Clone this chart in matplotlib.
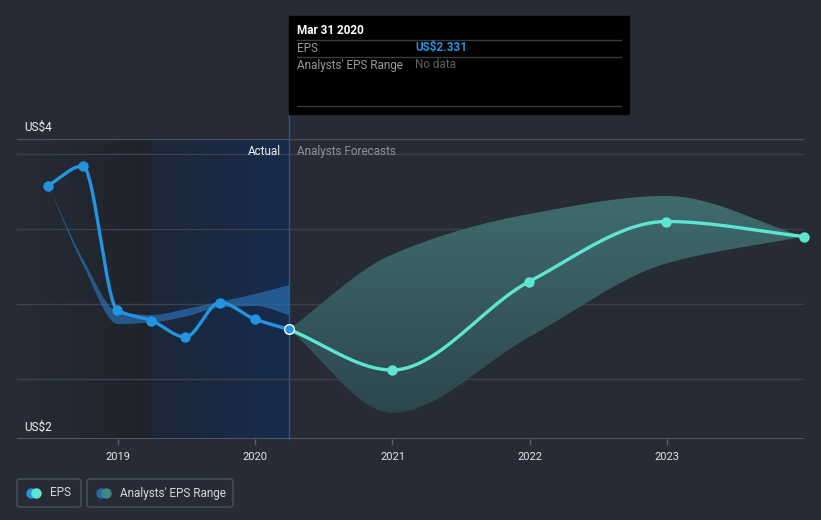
import numpy as np
import matplotlib
matplotlib.use("Agg")
import matplotlib.pyplot as plt
import matplotlib.dates as mdates
from matplotlib.lines import Line2D
from matplotlib.patches import Rectangle, FancyBboxPatch
from matplotlib.colors import LinearSegmentedColormap
from datetime import datetime

# ---------------- data ----------------
actual_dates = ["2018-06-30", "2018-09-30", "2018-12-31", "2019-03-31",
                "2019-06-30", "2019-09-30", "2019-12-31", "2020-03-31"]
actual_eps = [3.29, 3.42, 2.46, 2.39, 2.28, 2.51, 2.40, 2.331]
past_range_low = [3.29, 2.76, 2.37, 2.38, 2.42, 2.48, 2.49, 2.43]
past_range_high = [3.29, 2.80, 2.45, 2.43, 2.47, 2.52, 2.57, 2.63]

forecast_dates = ["2020-03-31", "2020-12-31", "2021-12-31", "2022-12-31", "2023-12-31"]
forecast_eps = [2.331, 2.06, 2.65, 3.05, 2.95]
forecast_low = [2.331, 1.775, 2.28, 2.77, 2.95]
forecast_high = [2.331, 2.83, 3.10, 3.22, 2.95]

year_ticks = ["2019", "2020", "2021", "2022", "2023"]
y_labels = ["US$4", "US$2"]

# ---------------- style ----------------
BG = "#262b36"
BLUE = "#2394df"
TEAL = "#5ee6d0"
FONT = ["Roboto", "DejaVu Sans"]
plt.rcParams["font.family"] = FONT

W, H = 821, 520
fig = plt.figure(figsize=(W / 100, H / 100), dpi=100, facecolor=BG)

def fx(px):
    return px / W

def fy(py):
    return 1 - py / H

ax_l, ax_r, ax_t, ax_b = 17, 804, 139, 439
ax = fig.add_axes([fx(ax_l), fy(ax_b), (ax_r - ax_l) / W, (ax_b - ax_t) / H])
ax.set_facecolor(BG)
for s in ax.spines.values():
    s.set_visible(False)


def to_num(ds):
    return np.array([mdates.date2num(datetime.strptime(d, "%Y-%m-%d")) for d in ds])


def monotone(x, y, n=300):
    x = np.asarray(x, float)
    y = np.asarray(y, float)
    h = np.diff(x)
    d = np.diff(y) / h
    m = np.zeros_like(y)
    m[0] = d[0]
    m[-1] = d[-1]
    for i in range(1, len(x) - 1):
        if d[i - 1] * d[i] <= 0:
            m[i] = 0
        else:
            w1 = 2 * h[i] + h[i - 1]
            w2 = h[i] + 2 * h[i - 1]
            m[i] = (w1 + w2) / (w1 / d[i - 1] + w2 / d[i])
    xs, ys = [], []
    for i in range(len(x) - 1):
        t = np.linspace(0, 1, n // (len(x) - 1) + 2)
        hh = h[i]
        h00 = 2 * t**3 - 3 * t**2 + 1
        h10 = t**3 - 2 * t**2 + t
        h01 = -2 * t**3 + 3 * t**2
        h11 = t**3 - t**2
        yy = h00 * y[i] + h10 * hh * m[i] + h01 * y[i + 1] + h11 * hh * m[i + 1]
        xs.append(x[i] + t * hh)
        ys.append(yy)
    return np.concatenate(xs), np.concatenate(ys)


xa = to_num(actual_dates)
xf = to_num(forecast_dates)
x_left = mdates.date2num(datetime(2018, 4, 8))
x_right = mdates.date2num(datetime(2024, 1, 1))
x_past1 = mdates.date2num(datetime(2019, 3, 31))
x_now = xa[-1]
y0, y1 = 1.6, 3.6
ax.set_xlim(x_left, x_right)
ax.set_ylim(y0, y1)

# background shading regions
grad = np.linspace(0, 1, 256).reshape(1, -1)
cm_dark = LinearSegmentedColormap.from_list("d", ["#262b36", "#1f232b"])
ax.imshow(grad, cmap=cm_dark, aspect="auto", extent=(x_left, x_past1, y0, y1),
          zorder=0, interpolation="bicubic")
cm_blue = LinearSegmentedColormap.from_list("b", ["#1d2739", "#162b4c"])
ax.imshow(grad, cmap=cm_blue, aspect="auto", extent=(x_past1, x_now, y0, y1),
          zorder=0, interpolation="bicubic")

# grid lines
for gv in [2.0, 2.5, 3.0, 3.5]:
    ax.axhline(gv, color="#3c424d", lw=1, zorder=1)
ax.axhline(y1, color="#4a505a", lw=1, zorder=1)
ax.axhline(y0, color="#5a5f69", lw=1.2, zorder=1)

# vertical "now" line
ax.plot([x_now, x_now], [y0, y1 + 0.167], color="#2c5590", lw=1, zorder=2, clip_on=False)

# past analyst range band
sx, slo = monotone(xa, past_range_low)
_, shi = monotone(xa, past_range_high)
ax.fill_between(sx, slo, shi, color="#2a6eb0", alpha=0.7, lw=0, zorder=3)

# forecast analyst range band (vertical gradient)
fxs, flo = monotone(xf, forecast_low)
_, fhi = monotone(xf, forecast_high)
band = ax.fill_between(fxs, flo, fhi, color="none", lw=0, zorder=3)
cm_teal = LinearSegmentedColormap.from_list("t", ["#2c464d", "#406c6e"])
vgrad = np.linspace(0, 1, 256).reshape(-1, 1)
im = ax.imshow(vgrad, cmap=cm_teal, aspect="auto", origin="lower",
               extent=(x_now, x_right, 1.75, 3.25), zorder=3, interpolation="bicubic")
im.set_clip_path(band.get_paths()[0], transform=ax.transData)
ax.set_xlim(x_left, x_right)
ax.set_ylim(y0, y1)

# EPS lines
lx, ly = monotone(xa, actual_eps)
ax.plot(lx, ly, color=BLUE, lw=2.4, zorder=5, solid_capstyle="round")
ax.plot(xa[:-1], actual_eps[:-1], "o", color=BLUE, ms=6.5, zorder=6)
gx, gy = monotone(xf, forecast_eps)
ax.plot(gx, gy, color=TEAL, lw=2.4, zorder=5, solid_capstyle="round")
ax.plot(xf[1:], forecast_eps[1:], "o", color=TEAL, ms=6.5, zorder=6, clip_on=False)
ax.plot([xa[-1]], [actual_eps[-1]], "o", color=BLUE, ms=7, mec="white", mew=1, zorder=7)

# ticks
tick_pos = [mdates.date2num(datetime(int(t), 1, 1)) for t in year_ticks]
ax.set_xticks(tick_pos)
ax.set_xticklabels(year_ticks)
ax.tick_params(axis="x", colors="#5a5f69", length=4, width=1, pad=5,
               labelcolor="#e6e6e6", labelsize=8)
ax.set_yticks([])

# y labels
fig.text(fx(24), fy(127), y_labels[0], color="#f0f0f0", fontsize=8.5, va="center", ha="left")
fig.text(fx(24), fy(427), y_labels[1], color="#f0f0f0", fontsize=8.5, va="center", ha="left")

# Actual / forecast labels
fig.text(fx(281), fy(151), "Actual", color="#f0f0f0", fontsize=8.5, va="center", ha="right")
fig.text(fx(297), fy(151), "Analysts Forecasts", color="#8d929b", fontsize=8.5,
         va="center", ha="left")

# tooltip
fig.add_artist(Rectangle((fx(289), fy(114)), (629 - 289) / W, (114 - 16) / H,
                         transform=fig.transFigure, color="black", zorder=10))
for ly_ in [40, 57, 106]:
    fig.add_artist(Line2D([fx(297), fx(621)], [fy(ly_), fy(ly_)], color="#3a3a3a",
                          lw=1, transform=fig.transFigure, zorder=11))
fig.text(fx(297), fy(31), "Mar 31 2020", color="white", fontsize=8.5, fontweight="bold",
         va="center", ha="left", zorder=12)
fig.text(fx(297), fy(48), "EPS", color="#9a9a9a", fontsize=8.5, va="center", ha="left", zorder=12)
fig.text(fx(415), fy(48), "US$2.331", color="#2394df", fontsize=8.5, fontweight="bold",
         va="center", ha="left", zorder=12)
fig.text(fx(297), fy(65), "Analysts' EPS Range", color="#9a9a9a", fontsize=8.5,
         va="center", ha="left", zorder=12)
fig.text(fx(415), fy(65), "No data", color="#606060", fontsize=8.5, va="center",
         ha="left", zorder=12)

# legend
def legend_box(x0, x1, c1, c2, label):
    fig.add_artist(FancyBboxPatch((fx(x0), fy(507)), (x1 - x0) / W, 28 / H,
                                  boxstyle="round,pad=0,rounding_size=0.004",
                                  transform=fig.transFigure, fc="none",
                                  ec="#4c525c", lw=1))
    fig.add_artist(Line2D([fx(31) + (x0 - 17) / W], [fy(493)], marker="o", ms=6.5, color=c1,
                          lw=0, transform=fig.transFigure))
    fig.add_artist(Line2D([fx(36) + (x0 - 17) / W], [fy(493)], marker="o", ms=6.5, color=c2,
                          lw=0, transform=fig.transFigure))
    fig.text(fx(x0 + 33), fy(493), label, color="#d6d6d6", fontsize=8.5,
             va="center", ha="left")

legend_box(17, 81, BLUE, TEAL, "EPS")
legend_box(87, 233, "#2a6aa0", "#3f8884", "Analysts' EPS Range")

fig.savefig("out.png", dpi=100, facecolor=BG)
